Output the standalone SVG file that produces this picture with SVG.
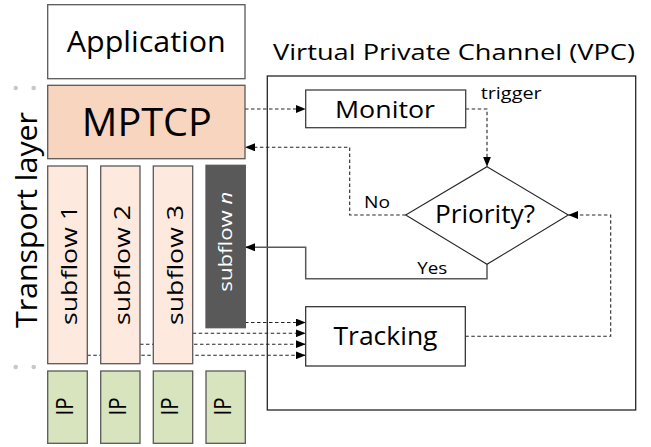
<svg xmlns="http://www.w3.org/2000/svg" width="651" height="447" viewBox="0 0 651 447">
<style>
text{font-family:"Open Sans","Noto Sans","Liberation Sans",sans-serif;fill:#000;}
.box{stroke:#595959;stroke-width:1.3;}
.dash{fill:none;stroke:#262626;stroke-width:1.1;stroke-dasharray:3.5,2.5;}
.solid{fill:none;stroke:#595959;stroke-width:1.5;}
.dot{fill:#c8c8c8;}
.ip{font-size:23px;}
</style>
<defs>
<marker id="ah" viewBox="0 0 10 8" refX="10" refY="4" markerWidth="10" markerHeight="8" markerUnits="userSpaceOnUse" orient="auto">
<path d="M0,0 L10,4 L0,8 z" fill="#000"/>
</marker>
</defs>
<rect width="651" height="447" fill="#fff"/>

<g id="dots">
<circle class="dot" cx="15.7" cy="88" r="2.3"/>
<circle class="dot" cx="33.7" cy="88" r="2.3"/>
<circle class="dot" cx="51" cy="88" r="2.3"/>
<circle class="dot" cx="15.7" cy="367" r="2.3"/>
<circle class="dot" cx="33.7" cy="367" r="2.3"/>
</g>

<g id="vpc">
<rect x="267.3" y="76" width="368.4" height="334" fill="none" stroke="#262626" stroke-width="1.3"/>
<text x="454" y="60" font-size="21" text-anchor="middle" textLength="362" lengthAdjust="spacingAndGlyphs">Virtual Private Channel (VPC)</text>
</g>

<g id="connectors">
<path class="dash" d="M245,109 H305.7" marker-end="url(#ah)"/>
<path class="dash" d="M465.7,109 H487 V166.7" marker-end="url(#ah)"/>
<path class="dash" d="M405.7,215 H349.7 V147.3 H245" marker-end="url(#ah)"/>
<path class="solid" d="M487,264.3 V278.7 H305.7 V247.3 H245" marker-end="url(#ah)"/>
<path class="dash" d="M465.3,336.3 H610.7 V215 H568.3" marker-end="url(#ah)"/>
<path class="dash" d="M245,322.5 H305.7" marker-end="url(#ah)"/>
<path class="dash" d="M192.7,333.3 H305.7" marker-end="url(#ah)"/>
<path class="dash" d="M140,344.2 H305.7" marker-end="url(#ah)"/>
<path class="dash" d="M87.3,355.3 H305.7" marker-end="url(#ah)"/>
<text x="364" y="208.3" font-size="16.5" textLength="26" lengthAdjust="spacingAndGlyphs">No</text>
<text x="417.3" y="274.3" font-size="16.5" textLength="30" lengthAdjust="spacingAndGlyphs">Yes</text>
<text x="480.7" y="98.5" font-size="15.5" textLength="61" lengthAdjust="spacingAndGlyphs">trigger</text>
</g>

<g id="application">
<rect class="box" x="47.7" y="4.7" width="197.3" height="74" fill="#fff"/>
<text x="146.3" y="52.3" font-size="29.5" text-anchor="middle" textLength="159" lengthAdjust="spacingAndGlyphs">Application</text>
</g>

<g id="mptcp">
<rect class="box" x="47.7" y="85.3" width="197.3" height="73.4" fill="#f8d5be"/>
<text x="146.8" y="135.7" font-size="39" text-anchor="middle" textLength="130" lengthAdjust="spacingAndGlyphs">MPTCP</text>
</g>

<g id="transport-layer">
<text transform="translate(37,220) rotate(-90)" font-size="29.5" text-anchor="middle" textLength="216" lengthAdjust="spacingAndGlyphs">Transport layer</text>
</g>

<g id="subflow1">
<rect class="box" x="47.7" y="166" width="39.6" height="197.7" fill="#fde9dd"/>
<text transform="translate(77,265) rotate(-90)" font-size="22.5" text-anchor="middle" textLength="120" lengthAdjust="spacingAndGlyphs">subflow 1</text>
</g>
<g id="subflow2">
<rect class="box" x="100.7" y="166" width="39.3" height="197.7" fill="#fde9dd"/>
<text transform="translate(130,265) rotate(-90)" font-size="22.5" text-anchor="middle" textLength="120" lengthAdjust="spacingAndGlyphs">subflow 2</text>
</g>
<g id="subflow3">
<rect class="box" x="153.3" y="166" width="39.4" height="197.7" fill="#fde9dd"/>
<text transform="translate(182.7,265) rotate(-90)" font-size="22.5" text-anchor="middle" textLength="120" lengthAdjust="spacingAndGlyphs">subflow 3</text>
</g>
<g id="subflown">
<rect class="box" x="206" y="165.3" width="39.3" height="162.4" fill="#595959" stroke="#404040"/>
<text transform="translate(232,241.7) rotate(-90)" font-size="18.5" text-anchor="middle" style="fill:#fff" textLength="100" lengthAdjust="spacingAndGlyphs">subflow <tspan font-style="italic">n</tspan></text>
</g>

<g id="ip1">
<rect class="box" x="47.7" y="371" width="39.6" height="72.3" fill="#d7e4bd"/>
<text class="ip" transform="translate(72.5,406.5) rotate(-90)" text-anchor="middle" textLength="18" lengthAdjust="spacingAndGlyphs">IP</text>
</g>
<g id="ip2">
<rect class="box" x="100.7" y="371" width="39.3" height="72.3" fill="#d7e4bd"/>
<text class="ip" transform="translate(125.5,406.5) rotate(-90)" text-anchor="middle" textLength="18" lengthAdjust="spacingAndGlyphs">IP</text>
</g>
<g id="ip3">
<rect class="box" x="153.3" y="371" width="39.4" height="72.3" fill="#d7e4bd"/>
<text class="ip" transform="translate(178,406.5) rotate(-90)" text-anchor="middle" textLength="18" lengthAdjust="spacingAndGlyphs">IP</text>
</g>
<g id="ip4">
<rect class="box" x="206" y="371" width="39.3" height="72.3" fill="#d7e4bd"/>
<text class="ip" transform="translate(230.8,406.5) rotate(-90)" text-anchor="middle" textLength="18" lengthAdjust="spacingAndGlyphs">IP</text>
</g>

<g id="monitor">
<rect x="305.7" y="90" width="160" height="37.7" fill="#fff" stroke="#404040" stroke-width="1.3"/>
<text x="385" y="118.3" font-size="24" text-anchor="middle" textLength="100" lengthAdjust="spacingAndGlyphs">Monitor</text>
</g>

<g id="priority">
<polygon points="487,166.7 568.3,215 487,264.3 405.7,215" fill="#fff" stroke="#262626" stroke-width="1.1"/>
<text x="485" y="223.3" font-size="25" text-anchor="middle" textLength="100" lengthAdjust="spacingAndGlyphs">Priority?</text>
</g>

<g id="tracking">
<rect x="305.7" y="306.7" width="159.6" height="59.3" fill="#fff" stroke="#262626" stroke-width="1.2"/>
<text x="385.5" y="345" font-size="26" text-anchor="middle" textLength="104" lengthAdjust="spacingAndGlyphs">Tracking</text>
</g>
</svg>
